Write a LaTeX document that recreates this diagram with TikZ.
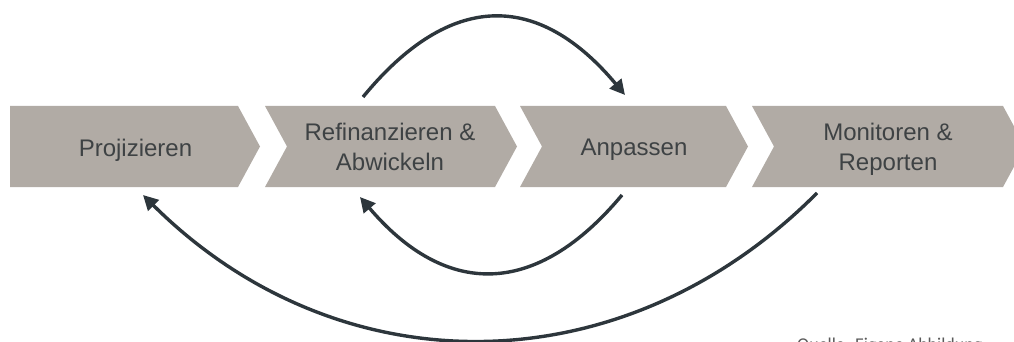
\documentclass[tikz,border=0pt]{standalone}
\usepackage{fontspec}
\setmainfont{Liberation Sans}
\newfontfamily\captionfont{Carlito}
\usetikzlibrary{arrows.meta}

\definecolor{chevfill}{RGB}{177,171,165}
\definecolor{labeltext}{RGB}{62,66,68}
\definecolor{loopline}{RGB}{45,54,60}
\definecolor{sourcegray}{RGB}{90,90,90}

\tikzset{
  chevron/.style={fill=chevfill, draw=none},
  steplabel/.style={text=labeltext, font=\fontsize{24}{30}\selectfont, align=center, inner sep=0pt},
  loop/.style={draw=loopline, line width=3.4pt, -{Triangle[length=15pt,width=15pt]}},
}

\begin{document}
\begin{tikzpicture}[x=1pt, y=-1pt]
  \useasboundingbox (0,0) rectangle (1014,342);
  \clip (0,0) rectangle (1014,342);

  % process chevrons
  \path[chevron] (10,106) -- (238,106) -- (260,146.5) -- (238,187) -- (10,187) -- cycle;
  \path[chevron] (265,106) -- (495,106) -- (517,146.5) -- (495,187) -- (265,187) -- (287,146.5) -- cycle;
  \path[chevron] (520,106) -- (726,106) -- (748,146.5) -- (726,187) -- (520,187) -- (542,146.5) -- cycle;
  \path[chevron] (752,106) -- (1003,106) -- (1025,146.5) -- (1003,187) -- (752,187) -- (774,146.5) -- cycle;

  % step labels
  \node[steplabel, anchor=base] (proj) at (135.5,156.5) {Projizieren};
  \node[steplabel] (refi) at (390,147) {Refinanzieren \&\\Abwickeln};
  \node[steplabel, anchor=base] (anpa) at (634,155.5) {Anpassen};
  \node[steplabel] (moni) at (888,149.3) {Monitoren \&\\Reporten};

  % end points of the feedback loops
  \coordinate (refi top)    at (363,97);
  \coordinate (anpa top)    at (625,95);
  \coordinate (anpa bottom) at (622,195);
  \coordinate (refi bottom) at (360,197);
  \coordinate (moni bottom) at (817,193);
  \coordinate (proj bottom) at (143,195);

  % loops
  \draw[loop] (refi top) .. controls (450,-9) and (538,-9) .. (anpa top);
  \draw[loop] (anpa bottom) .. controls (536,298) and (446,298) .. (refi bottom);
  \draw[loop] (moni bottom) .. controls (622,389) and (338,389) .. (proj bottom);

  % source line
  \node[font=\captionfont\fontsize{18}{20}\selectfont, text=sourcegray, anchor=base west, inner sep=0pt]
    (source) at (797,350) {Quelle: Eigene Abbildung};
\end{tikzpicture}
\end{document}
